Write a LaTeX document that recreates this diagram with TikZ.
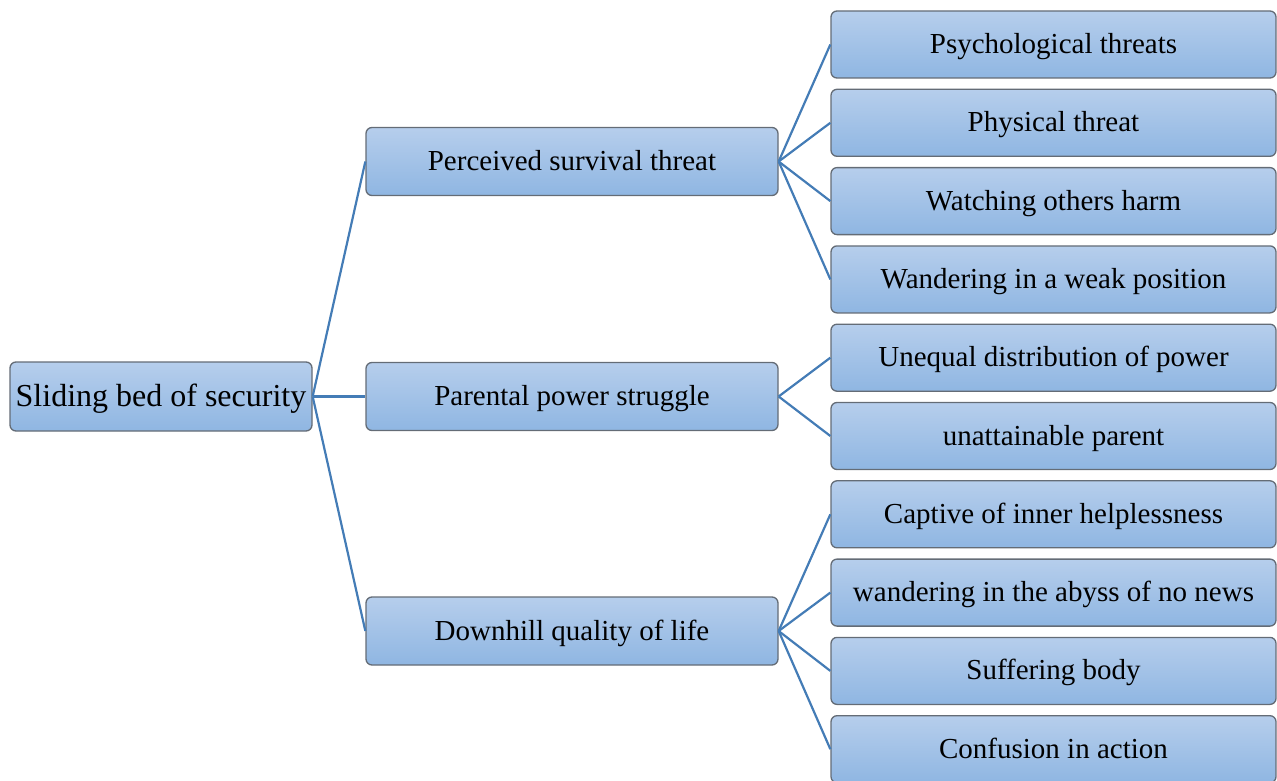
\documentclass[tikz,border=0pt]{standalone}
\usepackage{fontspec}
\setmainfont{Liberation Serif}
\usepackage{xcolor}
\usepackage{tikz}
\usetikzlibrary{positioning, calc}

\definecolor{boxtop}{RGB}{182,206,236}
\definecolor{boxbot}{RGB}{143,182,226}
\definecolor{boxline}{RGB}{100,108,118}
\definecolor{linkblue}{RGB}{68,124,182}

\begin{document}
\begin{tikzpicture}[x=1pt, y=-1pt,
    box/.style={draw=boxline, line width=1.3pt, rounded corners=6pt,
      top color=boxtop, bottom color=boxbot, inner sep=0pt,
      text height=24pt, text depth=6pt,
      font=\fontsize{29}{34}\selectfont},
    rootbox/.style={box, minimum width=302pt, minimum height=69pt,
      text height=27pt, text depth=6.5pt,
      font=\fontsize{32}{38}\selectfont},
    midbox/.style={box, minimum width=412pt, minimum height=68pt},
    leafbox/.style={box, minimum width=445pt, minimum height=67pt},
    link/.style={draw=linkblue, line width=2.2pt}]
      \useasboundingbox (0,0) rectangle (1277,781);

      % tree
      \node[rootbox] (root) at (161,396.5) {Sliding bed of security};
      \node[midbox] (m1) at (572,161.5) {Perceived survival threat};
      \node[midbox] (m2) at (572,396.5) {Parental power struggle};
      \node[midbox] (m3) at (572,631) {Downhill quality of life};

      \foreach \i/\t in {0/Psychological threats, 1/Physical threat,
          2/Watching others harm, 3/Wandering in a weak position,
          4/Unequal distribution of power, 5/unattainable parent,
          6/Captive of inner helplessness, 7/wandering in the abyss of no news,
          8/Suffering body, 9/Confusion in action} {
        \node[leafbox] (l\i) at (1053.5,44.5+78.3*\i) {\t};
      }

      % links
      \foreach \m in {m1, m2, m3} {
        \draw[link] (root.east) -- (\m.west);
      }
      \foreach \m/\l in {m1/l0, m1/l1, m1/l2, m1/l3, m2/l4, m2/l5,
          m3/l6, m3/l7, m3/l8, m3/l9} {
        \draw[link] (\m.east) -- (\l.west);
      }
    \end{tikzpicture}
\end{document}
